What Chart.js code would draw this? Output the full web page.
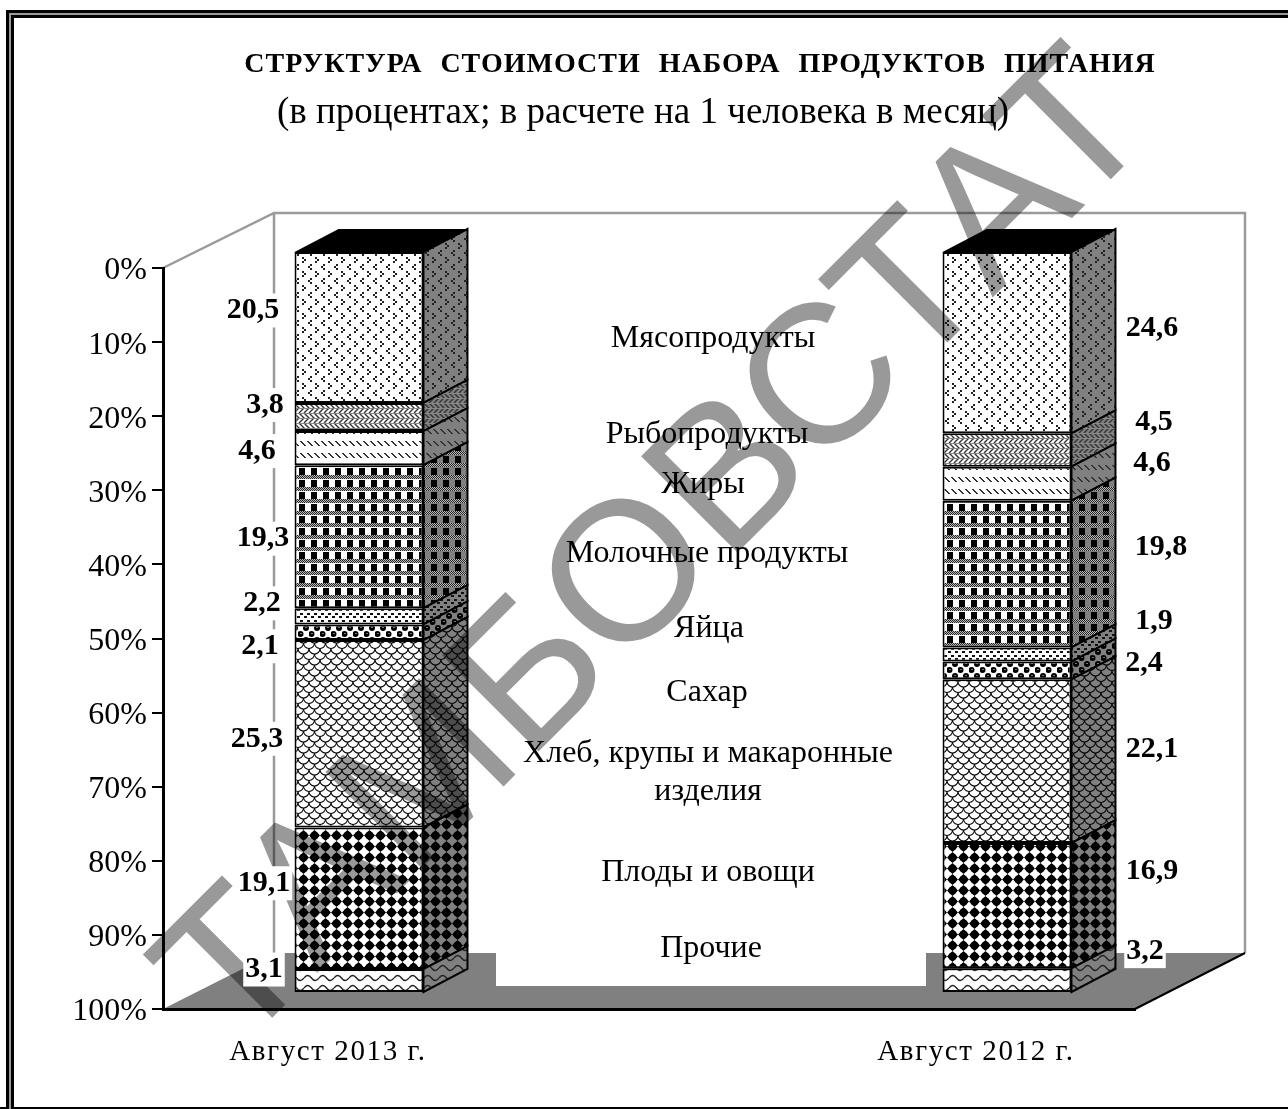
<!DOCTYPE html>
<html>
<head>
<meta charset="utf-8">
<style>html,body{margin:0;padding:0;background:#fff}canvas{display:block}</style>
<script src="https://cdn.jsdelivr.net/npm/chart.js@4"></script>
</head>
<body>
<canvas id="c" width="1288" height="1109"></canvas>
<script>
const categories = ['Август 2013 г.', '', 'Август 2012 г.'];
const seriesNames = ['Мясопродукты', 'Рыбопродукты', 'Жиры', 'Молочные продукты', 'Яйца', 'Сахар',
  'Хлеб, крупы и макаронные\nизделия', 'Плоды и овощи', 'Прочие'];
const values2013 = [20.5, 3.8, 4.6, 19.3, 2.2, 2.1, 25.3, 19.1, 3.1];
const values2012 = [24.6, 4.5, 4.6, 19.8, 1.9, 2.4, 22.1, 16.9, 3.2];
const yTickLabels = ['0%', '10%', '20%', '30%', '40%', '50%', '60%', '70%', '80%', '90%', '100%'];
const titleText = 'СТРУКТУРА СТОИМОСТИ НАБОРА ПРОДУКТОВ ПИТАНИЯ';
const subtitleText = '(в процентах; в расчете на 1 человека в месяц)';
const watermarkText = 'ТАМБОВСТАТ';

// label nudges relative to the segment centre, only styling
const nudge2013 = [[-72, -19], [-60, -14], [-68, 1], [-62, 0], [-63, -15], [-65, 12], [-68, 3], [-61, -17], [-61, -13]];
const nudge2012 = [[179, -16], [181, -30], [179, -22], [188, -29], [181, -35], [171, -9], [179, -14], [179, -36], [172, -31]];
const nameY = [337, 433, 483, 552, 627, 691, 752, 871, 947];
const nameDx = [64, 58, 54, 58, 60, 58, 59, 59, 62];

const SERIF = '"Liberation Serif", "Times New Roman", serif';
const DEPTH_X = 44, DEPTH_Y = 23, SHIFT_X = 34, SHIFT_Y = -17;

function tile(w, h, bg, draw) {
  const cv = document.createElement('canvas');
  cv.width = w; cv.height = h;
  const g = cv.getContext('2d');
  g.fillStyle = bg;
  g.fillRect(0, 0, w, h);
  draw(g);
  return cv;
}
function px(g, color, list) {
  g.fillStyle = color;
  list.forEach(p => g.fillRect(p[0], p[1], p[2] || 1, p[3] || 1));
}

const painters = [
  // meat: small arrows
  [13, 14, g => {
    px(g, '#222', [[3, 1, 2, 2], [1, 3, 2, 2], [3, 5, 2, 2], [8, 8, 2, 2], [10, 10, 2, 2], [8, 12, 2, 2]]);
  }],
  // fish: herringbone
  [10, 10, g => {
    g.strokeStyle = '#333'; g.lineWidth = 1.4;
    g.beginPath();
    for (let i = -10; i < 20; i += 5) { g.moveTo(i, 0); g.lineTo(i + 5, 5); g.lineTo(i, 10); }
    g.stroke();
    px(g, '#888', [[0, 0, 10, 1], [0, 5, 10, 1]]);
  }],
  // fats: rows of short dashes
  [7, 12, g => {
    px(g, '#333', [[0, 2, 2], [1, 3, 2], [2, 4, 2], [3, 5, 2], [4, 6, 2]]);
  }],
  // dairy: checked bands with black squares
  [12, 12, g => {
    for (let x = 0; x < 12; x++) for (let y = 0; y < 4; y++) {
      px(g, (x + y) % 2 ? '#222' : '#bbb', [[x, y]]);
    }
    px(g, '#000', [[1, 5, 6, 7]]);
  }],
  // eggs: dotted
  [7, 7, g => {
    px(g, '#111', [[0, 0, 3, 2], [4, 3, 3, 2]]);
  }],
  // sugar: balls
  [11, 12, g => {
    g.fillStyle = '#000';
    g.beginPath(); g.arc(2.5, 3, 3, 0, Math.PI * 2); g.fill();
    g.beginPath(); g.arc(8, 9, 3, 0, Math.PI * 2); g.fill();
    px(g, '#777', [[2, 2, 2, 1], [7, 8, 2, 1]]);
  }],
  // bread: overlapping scales
  [11, 11, g => {
    g.strokeStyle = '#000'; g.lineWidth = 1.1;
    [[0, 0], [11, 0], [5.5, 5.5], [0, 11], [11, 11], [5.5, -5.5]].forEach(p => {
      g.beginPath();
      g.arc(p[0], p[1], 5.5, 0, Math.PI);
      g.stroke();
    });
  }],
  // fruit: rounded black diamonds
  [11, 11, g => {
    g.fillStyle = '#000';
    g.beginPath();
    g.moveTo(5.5, 0); g.lineTo(11, 5.5); g.lineTo(5.5, 11); g.lineTo(0, 5.5);
    g.closePath(); g.fill();
    g.beginPath(); g.arc(5.5, 5.5, 4, 0, Math.PI * 2); g.fill();
  }],
  // other: waves
  [15, 10, g => {
    g.strokeStyle = '#222'; g.lineWidth = 1.4;
    g.beginPath();
    g.moveTo(0, 5);
    g.quadraticCurveTo(3.75, 0, 7.5, 5);
    g.quadraticCurveTo(11.25, 10, 15, 5);
    g.stroke();
  }],
];

const ctx = document.getElementById('c').getContext('2d');
const frontFills = painters.map(p => ctx.createPattern(tile(p[0], p[1], '#fff', p[2]), 'repeat'));
const sideFills = painters.map(p => ctx.createPattern(tile(p[0], p[1], '#808080', p[2]), 'repeat'));

function poly(c, pts) {
  c.beginPath();
  pts.forEach((p, i) => i ? c.lineTo(p[0], p[1]) : c.moveTo(p[0], p[1]));
  c.closePath();
}
function segLine(c, x0, y0, x1, y1) {
  c.beginPath(); c.moveTo(x0, y0); c.lineTo(x1, y1); c.stroke();
}

const scene = {
  id: 'scene',
  beforeDraw(chart) {
    const c = chart.ctx, a = chart.chartArea;
    const backX = a.left + 111, backR = a.right + 110, backTop = a.top - 55, floorY = a.bottom - 56;
    c.save();
    c.fillStyle = '#fff';
    c.fillRect(0, 0, chart.width, chart.height);
    // double frame, no right side in the source
    c.fillStyle = '#000';
    c.fillRect(6, 10, 1282, 3);
    c.fillRect(11, 15, 1277, 3);
    c.fillRect(6, 10, 3, 1099);
    c.fillRect(11, 15, 3, 1094);
    c.fillRect(0, 1107, 1288, 2);
    c.fillStyle = '#9a9a9a';
    c.fillRect(9, 13, 1279, 2);
    c.fillRect(9, 13, 2, 1096);
    // floor
    c.fillStyle = '#808080';
    poly(c, [[a.left, a.bottom], [backX, floorY], [backR, floorY], [a.right, a.bottom]]);
    c.fill();
    // walls
    c.strokeStyle = '#9a9a9a';
    c.lineWidth = 2.5;
    c.beginPath();
    c.moveTo(a.left, a.top);
    c.lineTo(backX, backTop);
    c.lineTo(backR, backTop);
    c.lineTo(backR, floorY);
    c.moveTo(backX, backTop);
    c.lineTo(backX, floorY);
    c.stroke();
    c.strokeStyle = '#000';
    c.lineWidth = 2;
    segLine(c, a.right, a.bottom, backR, floorY);
    c.restore();
  },
  beforeDatasetsDraw(chart) {
    const c = chart.ctx;
    c.save();
    c.translate(SHIFT_X, SHIFT_Y);
  },
  afterDatasetsDraw(chart) {
    const c = chart.ctx;
    [0, 2].forEach(idx => {
      chart.data.datasets.forEach((ds, d) => {
        const el = chart.getDatasetMeta(d).data[idx];
        const top = Math.min(el.y, el.base), bot = Math.max(el.y, el.base);
        const l = el.x - el.width / 2, r = el.x + el.width / 2;
        c.fillStyle = sideFills[d];
        poly(c, [[r, top], [r + DEPTH_X, top - DEPTH_Y], [r + DEPTH_X, bot - DEPTH_Y], [r, bot]]);
        c.fill();
        c.strokeStyle = '#000';
        c.lineWidth = 2;
        c.stroke();
        if (d === 0) {
          c.fillStyle = '#000';
          poly(c, [[l, top], [l + DEPTH_X, top - DEPTH_Y], [r + DEPTH_X, top - DEPTH_Y], [r, top]]);
          c.fill();
        }
      });
    });
    c.restore();
    drawWatermark(chart);
    drawLabels(chart);
  }
};

function drawWatermark(chart) {
  const c = chart.ctx;
  c.save();
  c.globalCompositeOperation = 'multiply';
  c.translate(236, 1054);
  c.rotate(-45 * Math.PI / 180);
  c.font = '198px "Liberation Sans", Arial, sans-serif';
  c.fillStyle = '#999';
  c.textBaseline = 'alphabetic';
  c.fillText(watermarkText, 0, 0);
  c.restore();
}

function drawLabels(chart) {
  const c = chart.ctx;
  c.save();
  c.textBaseline = 'middle';
  c.textAlign = 'center';
  // white plate behind the "Прочие" name hides part of the floor
  c.fillStyle = '#fff';
  c.fillRect(496, 952, 430, 34);
  [[0, nudge2013, values2013], [2, nudge2012, values2012]].forEach(set => {
    set[2].forEach((v, d) => {
      const el = chart.getDatasetMeta(d).data[set[0]];
      const x = el.x + set[1][d][0];
      const y = (el.y + el.base) / 2 + SHIFT_Y + set[1][d][1];
      const text = v.toFixed(1).replace('.', ',');
      c.font = 'bold 30px ' + SERIF;
      const w = c.measureText(text).width;
      c.fillStyle = '#fff';
      c.fillRect(x - w / 2 - 2, y - 15, w + 4, 34);
      c.fillStyle = '#000';
      c.fillText(text, x, y + 2);
    });
  });
  const mid = chart.scales.x.getPixelForValue(1);
  c.font = '32px ' + SERIF;
  c.fillStyle = '#000';
  seriesNames.forEach((name, i) => {
    name.split('\n').forEach((line, k) => {
      c.fillText(line, mid + nameDx[i], nameY[i] + 2 + k * 38);
    });
  });
  c.font = 'bold 28px ' + SERIF;
  c.letterSpacing = '1px';
  c.wordSpacing = '10px';
  c.fillText(titleText, 700, 65);
  c.wordSpacing = '0px';
  c.letterSpacing = '0px';
  c.font = '37px ' + SERIF;
  c.fillText(subtitleText, 643, 113);
  c.restore();
}

new Chart(ctx, {
  type: 'bar',
  data: {
    labels: categories,
    datasets: seriesNames.map((name, i) => ({
      label: name,
      data: [values2013[i], null, values2012[i]],
      backgroundColor: frontFills[i],
      borderColor: '#000',
      borderWidth: 2,
      borderSkipped: false,
      categoryPercentage: 0.398,
      barPercentage: 1,
    }))
  },
  plugins: [scene],
  options: {
    responsive: false,
    animation: false,
    layout: { padding: { left: 0, top: 268, right: 153, bottom: 0 } },
    plugins: { legend: { display: false }, title: { display: false }, tooltip: { enabled: false } },
    scales: {
      x: {
        stacked: true,
        afterFit: s => {
          s.height = 100;
          if (s.spaced) return;
          // the month labels are tracked out, the y labels are not
          const draw = s.drawLabels.bind(s);
          s.drawLabels = area => {
            s.ctx.letterSpacing = '1.6px';
            draw(area);
            s.ctx.letterSpacing = '0px';
          };
          s.spaced = true;
        },
        grid: { display: false },
        border: { color: '#000', width: 3 },
        ticks: { color: '#000', padding: 18, labelOffset: 3, maxRotation: 0, font: { family: SERIF, size: 29 } },
      },
      y: {
        stacked: true,
        reverse: true,
        min: 0,
        max: 100,
        afterFit: s => { s.width = 163; },
        grid: { drawOnChartArea: false, color: '#000', lineWidth: 2, tickLength: 11 },
        border: { color: '#000', width: 3 },
        ticks: {
          stepSize: 10,
          color: '#000',
          padding: 5,
          labelOffset: 3,
          font: { family: SERIF, size: 32 },
          callback: v => yTickLabels[Math.round(v / 10)],
        },
      }
    }
  }
});
</script>
</body>
</html>
